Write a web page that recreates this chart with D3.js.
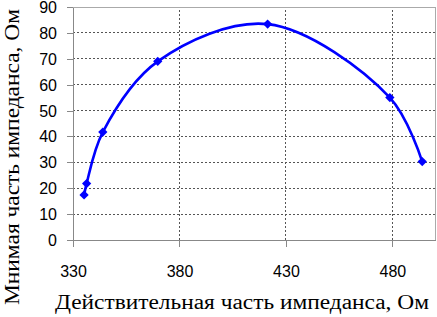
<!DOCTYPE html>
<html>
<head>
<meta charset="utf-8">
<script src="https://cdn.jsdelivr.net/npm/d3@7"></script>
<style>
  body { margin: 0; background: #fff; }
  svg { display: block; }
</style>
</head>
<body>
<div id="chart"></div>
<script>
// real part (Ohm) and imaginary part (Ohm)
const realPart = [335.2, 336.4, 344.0, 369.8, 421.4, 478.8, 494.0];
const imagPart = [17.4, 21.8, 41.7, 69.0, 83.4, 55.0, 30.3];
const xTicks = [330, 380, 430, 480];
const yTicks = [0, 10, 20, 30, 40, 50, 60, 70, 80, 90];

const W = 437, H = 317;
const m = {left: 73, right: 2, top: 7, bottom: 77};

const svg = d3.select("#chart").append("svg")
  .attr("width", W).attr("height", H);

const x = d3.scaleLinear().domain([330, 500]).range([m.left, W - m.right]);
const y = d3.scaleLinear().domain([0, 90]).range([H - m.bottom, m.top]);

const g = svg.append("g");

// grid
g.selectAll(".hgrid").data(yTicks.slice(1)).enter().append("line")
  .attr("x1", x(330)).attr("x2", x(500))
  .attr("y1", d => y(d)).attr("y2", d => y(d))
  .attr("stroke", "#555").attr("stroke-width", 1)
  .attr("stroke-dasharray", "2,2").attr("shape-rendering", "crispEdges");
g.selectAll(".vgrid").data(xTicks.slice(1)).enter().append("line")
  .attr("y1", y(0)).attr("y2", y(90))
  .attr("x1", d => x(d)).attr("x2", d => x(d))
  .attr("stroke", "#555").attr("stroke-width", 1)
  .attr("stroke-dasharray", "2,2").attr("shape-rendering", "crispEdges");

// plot border (top, right)
g.append("path")
  .attr("d", `M${x(330)},${y(90)}H${x(500)}V${y(0)}`)
  .attr("fill", "none").attr("stroke", "#aaa").attr("stroke-width", 1)
  .attr("shape-rendering", "crispEdges");

// axes
const xAxis = g.append("g")
  .attr("transform", `translate(0,${y(0)})`)
  .call(d3.axisBottom(x).tickValues(xTicks).tickSize(7).tickPadding(19).tickSizeOuter(0));
const yAxis = g.append("g")
  .attr("transform", `translate(${x(330)},0)`)
  .call(d3.axisLeft(y).tickValues(yTicks).tickSize(6).tickPadding(10).tickSizeOuter(0));

[xAxis, yAxis].forEach(a => {
  a.select(".domain").attr("stroke", "#888").attr("shape-rendering", "crispEdges");
  a.selectAll(".tick line").attr("stroke", "#888").attr("shape-rendering", "crispEdges");
  a.selectAll("text")
    .attr("font-family", "Liberation Sans, Arial, sans-serif")
    .attr("font-size", 16).attr("fill", "#000");
});
yAxis.selectAll("text").attr("dy", "0.34em");

// smoothed line
const pts = realPart.map((v, i) => [v, imagPart[i]]);
const line = d3.line()
  .x(d => x(d[0])).y(d => y(d[1]))
  .curve(d3.curveCatmullRom.alpha(0.5));
g.append("path").datum(pts)
  .attr("d", line)
  .attr("fill", "none").attr("stroke", "#0000ff").attr("stroke-width", 2.6);

// diamond markers
g.selectAll(".mk").data(pts).enter().append("path")
  .attr("d", d3.symbol().type(d3.symbolDiamond2).size(55))
  .attr("transform", d => `translate(${x(d[0])},${y(d[1])})`)
  .attr("fill", "#0000ff");

// axis titles
svg.append("text")
  .attr("x", 242).attr("y", 309)
  .attr("text-anchor", "middle")
  .attr("font-family", "Liberation Serif, Times New Roman, serif")
  .attr("font-size", 20)
  .attr("textLength", 374).attr("lengthAdjust", "spacingAndGlyphs")
  .text("Действительная часть импеданса, Ом");

svg.append("text")
  .attr("transform", "translate(19,157) rotate(-90)")
  .attr("text-anchor", "middle")
  .attr("font-family", "Liberation Serif, Times New Roman, serif")
  .attr("font-size", 20)
  .attr("textLength", 296).attr("lengthAdjust", "spacingAndGlyphs")
  .text("Мнимая часть импеданса, Ом");
</script>
</body>
</html>
